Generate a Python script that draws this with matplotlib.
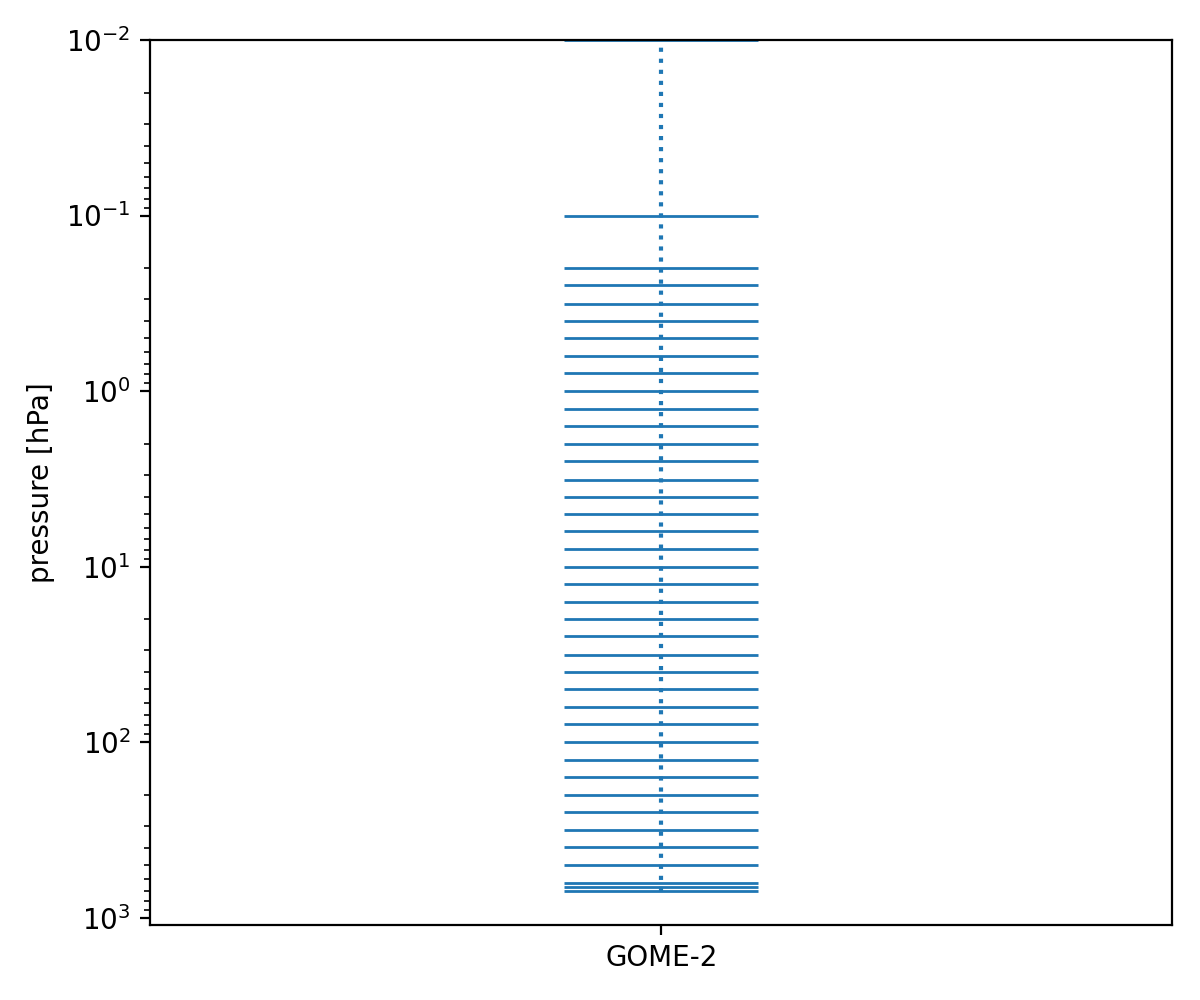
import numpy as np
import matplotlib.pyplot as plt

# GOME-2 pressure levels [hPa]
instrument = "GOME-2"
levels = [0.01, 0.1, 0.2, 0.25, 0.32, 0.4, 0.5, 0.63, 0.79, 1.0, 1.26, 1.58,
          2.0, 2.5, 3.2, 4.0, 5.0, 6.3, 7.9, 10, 12.6, 15.8, 20, 25, 32, 40,
          50, 63, 79, 100, 126, 158, 200, 251, 316, 398, 501, 631, 665, 700]

fig = plt.figure(figsize=(6, 5), dpi=200)
ax = fig.add_axes([0.125, 0.075, 0.852, 0.885])

x0 = 0
ax.hlines(levels, x0 - 0.095, x0 + 0.095, color='#1f77b4', linewidth=1.0)
# dotted line drawn from the surface upward
ax.plot([x0, x0], [max(levels), min(levels)], color='#1f77b4', linestyle=':', linewidth=1.5)

ax.set_yscale('log')
ax.set_ylim(1100, 0.01)
ax.set_xlim(-0.5, 0.5)
ax.set_xticks([x0])
ax.set_xticklabels([instrument])
ax.set_ylabel('pressure [hPa]')

fig.savefig('out.png', dpi=200)
